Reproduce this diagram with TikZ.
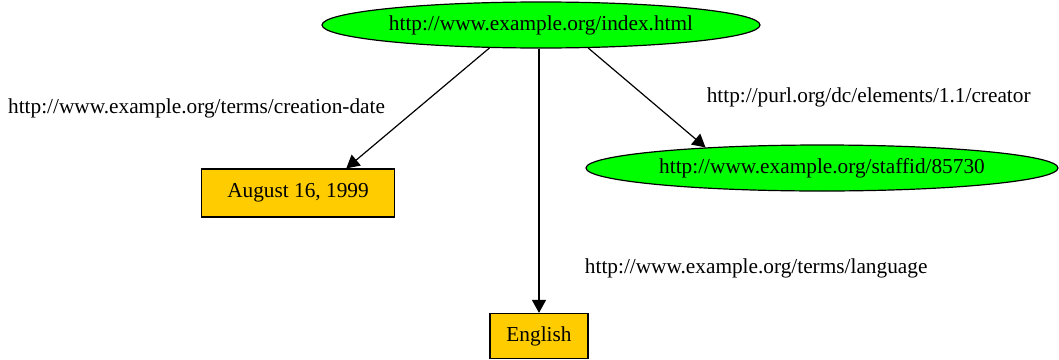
\documentclass[tikz,border=0pt]{standalone}
\usepackage{fontspec}
\setmainfont{Liberation Serif}
\usetikzlibrary{shapes.geometric, positioning, arrows.meta}
\definecolor{resgreen}{RGB}{0,255,0}
\definecolor{litgold}{RGB}{255,204,0}

\begin{document}
\begin{tikzpicture}[x=1pt, y=-1pt,
            every node/.style={font=\fontsize{21.3}{25}\selectfont},
            res/.style={ellipse, draw, line width=1.2pt, fill=resgreen, inner sep=0pt, minimum height=46pt},
            lit/.style={rectangle, draw, line width=1.2pt, fill=litgold, inner sep=0pt},
            every edge/.style={draw, line width=1.2pt, -{Triangle[length=13pt, width=14pt]}}]
            \useasboundingbox (0,0) rectangle (1059,359);

            \node[res, minimum width=438pt] (idx) at (541,25) {http://www.example.org/index.html};
            \node[lit, minimum width=193pt, minimum height=48pt] (date) at (298,193) {August 16, 1999};
            \node[res, minimum width=472pt] (staff) at (822,168) {http://www.example.org/staffid/85730};
            \node[lit, minimum width=98pt, minimum height=45pt] (eng) at (539,336) {English};

            \draw
            (idx.204) edge node[left=29pt] {http://www.example.org/terms/creation-date} (date.27)
            (idx.334) edge node[right=56pt] {http://purl.org/dc/elements/1.1/creator} (staff.170)
            (idx.south -| eng.north) edge node[pos=0.83, right=42pt] {http://www.example.org/terms/language} (eng.north);
        \end{tikzpicture}
\end{document}
